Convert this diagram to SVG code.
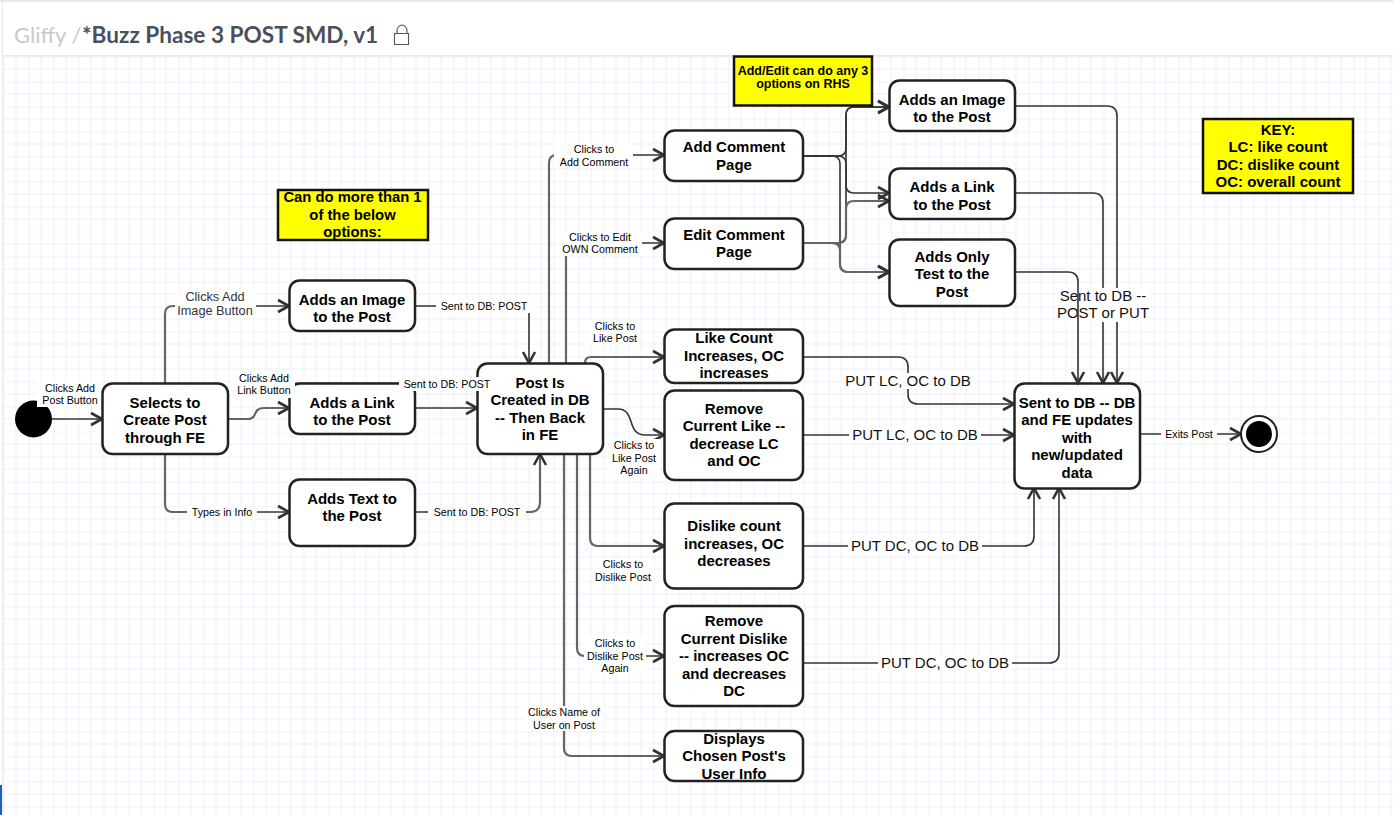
<svg xmlns="http://www.w3.org/2000/svg" width="1393" height="815" viewBox="0 0 1393 815">
<style>
text{font-family:"Liberation Sans",Arial,sans-serif;text-anchor:middle;fill:#000}
.n rect{fill:#fff;stroke:#222;stroke-width:2.5}
.n text{font-size:15px;font-weight:bold}
.y rect{fill:#ff0;stroke:#111;stroke-width:2.5}
.y text{font-weight:bold}
.c{fill:none;stroke:#333;stroke-width:1.6;marker-end:url(#a)}
.g{fill:none;stroke:#666;stroke-width:2.2;marker-end:url(#a)}
.p{fill:none;stroke:#333;stroke-width:1.6}
.bg{fill:#fff}
.s{font-size:10.700px}
.m{font-size:12.700px;fill:#333}
.l{font-size:15px;fill:#111}
</style>
<defs>
<marker id="a" markerUnits="userSpaceOnUse" markerWidth="16" markerHeight="16" refX="14" refY="8" orient="auto" overflow="visible"><path d="M3,2 L14,8 L3,14" fill="none" stroke="#333" stroke-width="2.6"/></marker>
<pattern id="grid" width="25" height="25" patternUnits="userSpaceOnUse" x="3.500" y="6.500"><path d="M0,12.500H25M12.500,0V25" stroke="#efedfd" stroke-width="1" fill="none"/><path d="M0,0H25M0,0V25" stroke="#e5e2fb" stroke-width="1.200" fill="none"/></pattern>
</defs>
<rect width="1393" height="815" fill="#fff"/>
<rect x="3" y="56" width="1390" height="759" fill="url(#grid)"/>
<g id="header">
<rect x="0" y="0" width="1393" height="2" fill="#e8e8e8"/>
<rect x="2" y="2" width="1" height="813" fill="#e8e8e8"/>
<rect x="3" y="55" width="1390" height="1.500" fill="#e9e8f3"/>
<text x="14" y="43" style="text-anchor:start;font-family:Lato,sans-serif;font-size:22px;fill:#c9c9c9">Gliffy /</text>
<text x="82" y="43" style="text-anchor:start;font-family:Lato,sans-serif;font-size:22.600px;font-weight:bold;fill:#4a4f5c">*Buzz Phase 3 POST SMD, v1</text>
<path d="M397,33V31a5,6 0 0 1 10,0V33M394.500,33.500H408.500V44.500H394.500Z" fill="none" stroke="#555" stroke-width="1.100"/>
<rect x="0" y="785" width="2" height="30" fill="#2563b0"/>
</g>
<g id="connectors">
<path class="g" d="M52,419H102"/>
<path class="g" d="M165,383V314Q165,306 173,306H289"/>
<path class="g" d="M228,419H248C258,419 252,408 264,408H289"/>
<path class="g" d="M165,454V504Q165,512 173,512H289"/>
<path class="c" d="M415,306H521Q529,306 529,314V363"/>
<path class="g" d="M415,408H477"/>
<path class="p" style="stroke:#111;stroke-width:2.500" d="M295,384H400"/>
<path class="g" d="M415,512H530Q540,512 540,502V454"/>
<path class="g" d="M549,363V163Q549,155 557,155H664"/>
<path class="g" d="M566,363V243H664"/>
<path class="g" d="M585,363Q585,357 591,357H664"/>
<path class="c" d="M603,409H618C636,409 626,435 645,435H664"/>
<path class="g" d="M590,454V538Q590,546 598,546H664"/>
<path class="g" d="M577,454V648Q577,656 585,656H664"/>
<path class="g" d="M564,454V748Q564,756 572,756H664"/>
<path class="c" d="M803,156H838Q846,156 846,148V115Q846,107 854,107H889"/>
<path class="c" d="M803,156H838Q846,156 846,164V185Q846,193 854,193H889"/>
<path class="c" d="M803,156H832Q840,156 840,164V264Q840,272 848,272H889"/>
<path class="c" d="M803,243H838Q846,243 846,235V115Q846,107 854,107H889"/>
<path class="g" d="M803,243H838Q846,243 846,235V209Q846,201 854,201H889"/>
<path class="g" d="M803,243H832Q840,243 840,251V264Q840,272 848,272H889"/>
<path class="c" d="M1015,106H1107Q1117,106 1117,116V383"/>
<path class="c" d="M1015,193H1093Q1103,193 1103,203V383"/>
<path class="c" d="M803,357H898Q908,357 908,367V394Q908,404 918,404H1014"/>
<path class="g" d="M803,435H1014"/>
<path class="c" d="M803,546H1024Q1034,546 1034,536V488"/>
<path class="c" d="M803,663H1049Q1059,663 1059,653V488"/>
<path class="g" d="M1140,434H1241"/>
</g>
<g id="start"><circle cx="33.500" cy="419" r="18.500" fill="#000"/></g>
<g id="end"><circle cx="1259" cy="434" r="18" fill="#fff" stroke="#222" stroke-width="2"/><circle cx="1259" cy="434" r="13" fill="#000"/></g>
<g id="selects" class="n"><rect x="102.500" y="383.500" width="125.500" height="70.500" rx="10"/><text x="165" y="408">Selects to</text><text x="165" y="425">Create Post</text><text x="165" y="443">through FE</text></g>
<g id="image1" class="n"><rect x="289.500" y="280.500" width="125.500" height="50.500" rx="10"/><text x="352" y="305">Adds an Image</text><text x="352" y="322">to the Post</text></g>
<g id="link1" class="n"><rect x="289.500" y="383.500" width="125.500" height="50.500" rx="10"/><text x="352" y="408">Adds a Link</text><text x="352" y="425">to the Post</text></g>
<g id="text1" class="n"><rect x="289.500" y="479.500" width="125.500" height="66.500" rx="10"/><text x="352" y="504">Adds Text to</text><text x="352" y="521">the Post</text></g>
<g id="post" class="n"><rect x="477.500" y="363.500" width="125.500" height="90.500" rx="10"/><text x="540" y="388">Post Is</text><text x="540" y="405">Created in DB</text><text x="540" y="423">-- Then Back</text><text x="540" y="440">in FE</text></g>
<g id="add-comment" class="n"><rect x="664.500" y="130.500" width="138.500" height="50.500" rx="10"/><text x="734" y="152">Add Comment</text><text x="734" y="170">Page</text></g>
<g id="edit-comment" class="n"><rect x="664.500" y="218.500" width="138.500" height="50.500" rx="10"/><text x="734" y="240">Edit Comment</text><text x="734" y="257">Page</text></g>
<g id="like" class="n"><rect x="664.500" y="329.500" width="138.500" height="53.500" rx="10"/><text x="734" y="343">Like Count</text><text x="734" y="361">Increases, OC</text><text x="734" y="378">increases</text></g>
<g id="remove-like" class="n"><rect x="664.500" y="390.500" width="138.500" height="89.500" rx="10"/><text x="734" y="414">Remove</text><text x="734" y="431">Current Like --</text><text x="734" y="449">decrease LC</text><text x="734" y="466">and OC</text></g>
<g id="dislike" class="n"><rect x="664.500" y="503.500" width="138.500" height="85" rx="10"/><text x="734" y="531">Dislike count</text><text x="734" y="549">increases, OC</text><text x="734" y="566">decreases</text></g>
<g id="remove-dislike" class="n"><rect x="664.500" y="606" width="138.500" height="100" rx="10"/><text x="734" y="626">Remove</text><text x="734" y="644">Current Dislike</text><text x="734" y="661">-- increases OC</text><text x="734" y="679">and decreases</text><text x="734" y="696">DC</text></g>
<g id="displays" class="n"><rect x="664.500" y="731" width="138.500" height="50" rx="10"/><text x="734" y="744">Displays</text><text x="734" y="761">Chosen Post's</text><text x="734" y="779">User Info</text></g>
<g id="image2" class="n"><rect x="889.500" y="80.500" width="125.500" height="50.500" rx="10"/><text x="952" y="105">Adds an Image</text><text x="952" y="122">to the Post</text></g>
<g id="link2" class="n"><rect x="889.500" y="168.500" width="125.500" height="50.500" rx="10"/><text x="952" y="192">Adds a Link</text><text x="952" y="210">to the Post</text></g>
<g id="text2" class="n"><rect x="889.500" y="239.500" width="125.500" height="66.500" rx="10"/><text x="952" y="262">Adds Only</text><text x="952" y="279">Test to the</text><text x="952" y="297">Post</text></g>
<g id="sent" class="n"><rect x="1014.500" y="383.500" width="125.500" height="105" rx="10"/><text x="1077" y="408">Sent to DB -- DB</text><text x="1077" y="425">and FE updates</text><text x="1077" y="443">with</text><text x="1077" y="460">new/updated</text><text x="1077" y="478">data</text></g>
<g id="note1" class="y"><rect x="278" y="190" width="150" height="50"/><text x="352.500" y="202" font-size="14.800">Can do more than 1</text><text x="352.500" y="220" font-size="14.800">of the below</text><text x="352.500" y="237" font-size="14.800">options:</text></g>
<g id="note2" class="y"><rect x="734" y="56.500" width="138" height="49"/><text x="803" y="75" font-size="12.500">Add/Edit can do any 3</text><text x="803" y="88" font-size="12.500">options on RHS</text></g>
<g id="key" class="y"><rect x="1203" y="119" width="150" height="74"/><text x="1278" y="135" font-size="15">KEY:</text><text x="1278" y="152" font-size="15">LC: like count</text><text x="1278" y="170" font-size="15">DC: dislike count</text><text x="1278" y="187" font-size="15">OC: overall count</text></g>
<g id="connector-labels">
<rect class="bg" x="37" y="381" width="64" height="26"/><text class="s" x="70" y="392">Clicks Add</text><text class="s" x="70" y="404">Post Button</text>
<rect class="bg" x="175" y="291" width="81" height="27"/><text class="m" x="215" y="301">Clicks Add</text><text class="m" x="215" y="315">Image Button</text>
<rect class="bg" x="233" y="372" width="62" height="26"/><text class="s" x="264" y="382">Clicks Add</text><text class="s" x="264" y="394">Link Button</text>
<rect class="bg" x="187" y="505" width="70" height="14"/><text class="s" x="222" y="516">Types in Info</text>
<rect class="bg" x="436" y="299" width="97" height="14"/><text class="s" x="484" y="310">Sent to DB: POST</text>
<rect class="bg" x="399" y="377" width="96" height="14"/><text class="s" x="447" y="388">Sent to DB: POST</text>
<rect class="bg" x="428" y="505" width="98" height="14"/><text class="s" x="477" y="516">Sent to DB: POST</text>
<rect class="bg" x="554" y="143" width="79" height="25"/><text class="s" x="594" y="153">Clicks to</text><text class="s" x="594" y="166">Add Comment</text>
<rect class="bg" x="556" y="231" width="86" height="25"/><text class="s" x="600" y="241">Clicks to Edit</text><text class="s" x="600" y="253">OWN Comment</text>
<rect class="bg" x="590" y="320" width="50" height="25"/><text class="s" x="615" y="330">Clicks to</text><text class="s" x="615" y="342">Like Post</text>
<rect class="bg" x="610" y="439" width="50" height="37"/><text class="s" x="634" y="449">Clicks to</text><text class="s" x="634" y="462">Like Post</text><text class="s" x="634" y="474">Again</text>
<rect class="bg" x="592" y="558" width="62" height="25"/><text class="s" x="623" y="568">Clicks to</text><text class="s" x="623" y="581">Dislike Post</text>
<rect class="bg" x="584" y="637" width="62" height="37"/><text class="s" x="615" y="647">Clicks to</text><text class="s" x="615" y="660">Dislike Post</text><text class="s" x="615" y="672">Again</text>
<rect class="bg" x="524" y="706" width="80" height="25"/><text class="s" x="564" y="716">Clicks Name of</text><text class="s" x="564" y="729">User on Post</text>
<rect class="bg" x="1056" y="288" width="94" height="34"/><text class="l" x="1103" y="301">Sent to DB --</text><text class="l" x="1103" y="318">POST or PUT</text>
<rect class="bg" x="846" y="373" width="125" height="16"/><text class="l" x="908" y="386">PUT LC, OC to DB</text>
<rect class="bg" x="849" y="427" width="132" height="16"/><text class="l" x="915" y="440">PUT LC, OC to DB</text>
<rect class="bg" x="848" y="538" width="134" height="16"/><text class="l" x="915" y="551">PUT DC, OC to DB</text>
<rect class="bg" x="878" y="655" width="134" height="16"/><text class="l" x="945" y="668">PUT DC, OC to DB</text>
<rect class="bg" x="1161" y="427" width="56" height="14"/><text class="s" x="1189" y="438">Exits Post</text>
<path class="c" d="M1015,272H1068Q1078,272 1078,282V383"/>
</g>
</svg>
